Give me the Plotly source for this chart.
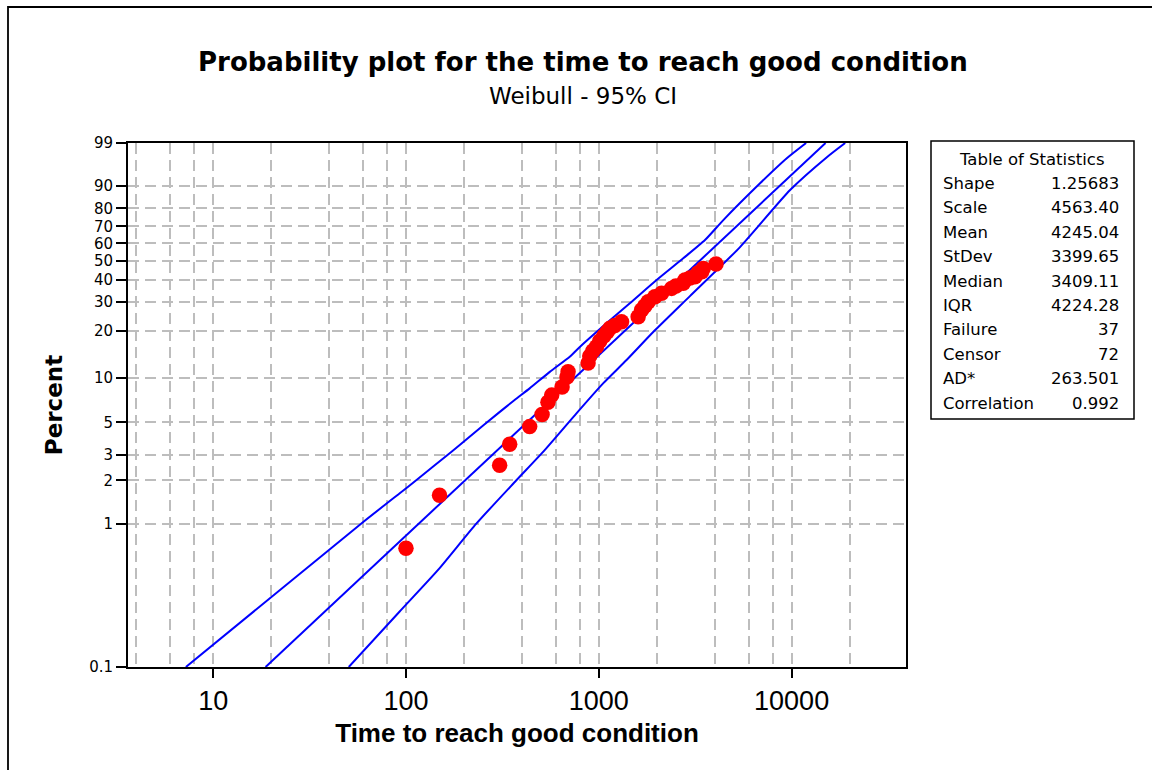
import numpy as np
import plotly.graph_objects as go

# ---------------- data ----------------
fail_time = [100, 149.3, 306, 345, 438, 508, 545, 570, 645, 684, 693, 880, 898, 931, 973,
             1012, 1062, 1104, 1141, 1211, 1312, 1600, 1667, 1734, 1804, 1954, 2117, 2386,
             2512, 2741, 2798, 2970, 3152, 3269, 3416, 3482, 4054]
fail_pct = [0.675, 1.578, 2.545, 3.55, 4.68, 5.65, 6.86, 7.65, 8.66, 10.09, 10.93, 12.47,
            13.85, 14.93, 15.91, 17.30, 18.60, 19.72, 20.79, 21.63, 22.82, 24.48, 26.86,
            28.37, 30.05, 32.12, 33.60, 35.82, 36.89, 38.18, 39.78, 40.76, 41.42, 43.32,
            44.00, 45.77, 48.13]

fit_time = [18.7, 15000]
fit_pct = [0.1, 99]

upper_time = [7.22, 58.5, 92.5, 113, 171.7, 213.8, 300, 366, 438, 557, 707, 797, 1096,
              1449, 1994, 2741, 3554, 4424, 6861, 9441, 11890]
upper_pct = [0.1, 1.0, 1.62, 2.0, 3.14, 3.99, 5.76, 7.09, 8.49, 10.93, 13.71, 15.84, 22.32,
             29.43, 39.78, 51.3, 61.92, 73.6, 90.99, 97.27, 99]

lower_time = [50.5, 92.5, 146.3, 231.6, 373.7, 524, 766, 1053, 1393, 1915, 2970, 5401,
              9822, 15290, 18960]
lower_pct = [0.1, 0.243, 0.474, 1.0, 2.0, 3.23, 5.76, 9.16, 13.06, 19.72, 32.41, 57.79,
             88.46, 97.47, 99]

y_tick_pct = [0.1, 1, 2, 3, 5, 10, 20, 30, 40, 50, 60, 70, 80, 90, 99]
y_tick_text = ["0.1", "1", "2", "3", "5", "10", "20", "30", "40", "50", "60", "70", "80", "90", "99"]
x_tick_vals = [10, 100, 1000, 10000]
x_tick_text = ["10", "100", "1000", "10000"]
x_grid_minor = [4, 6, 8, 20, 40, 60, 80, 200, 400, 600, 800, 2000, 4000, 6000, 8000, 20000]

stat_names = ["Shape", "Scale", "Mean", "StDev", "Median", "IQR", "Failure", "Censor",
              "AD*", "Correlation"]
stat_values = ["1.25683", "4563.40", "4245.04", "3399.65", "3409.11", "4224.28", "37",
               "72", "263.501", "0.992"]


# Weibull probability scale
def wb(p):
    p = np.asarray(p, dtype=float) / 100.0
    return np.log(-np.log(1.0 - p))


GRID = "#bdbdbd"
DASH = "11px,6px"
W, H = 1152, 770
L, R, T, B = 128, 246, 143, 103
PW, PH = W - L - R, H - T - B


def px_x(px):
    return (px - L) / PW


def px_y(py):
    return (H - B - py) / PH


fig = go.Figure()
for xs, ys in [(upper_time, upper_pct), (fit_time, fit_pct), (lower_time, lower_pct)]:
    fig.add_trace(go.Scatter(x=xs, y=wb(ys), mode="lines",
                             line=dict(color="#0000ff", width=2, shape="spline", smoothing=0.6),
                             hoverinfo="skip", showlegend=False))
fig.add_trace(go.Scatter(x=fail_time, y=wb(fail_pct), mode="markers",
                         marker=dict(color="#ff0000", size=15.5, line=dict(width=0)),
                         showlegend=False))

fig.update_xaxes(type="log", range=[np.log10(3.617), np.log10(39200)],
                 tickvals=x_tick_vals, ticktext=x_tick_text,
                 ticks="outside", ticklen=9, tickwidth=1.5, tickcolor="black",
                 tickfont=dict(family="Liberation Sans", size=27, color="black"),
                 showgrid=True, gridcolor=GRID, griddash=DASH, gridwidth=1.5,
                 minor=dict(tickvals=x_grid_minor, showgrid=True, gridcolor=GRID,
                            griddash=DASH, gridwidth=1.5, ticks=""),
                 showline=True, linecolor="black", linewidth=2, mirror=True,
                 zeroline=False,
                 title=dict(text="<b>Time to reach good condition</b>",
                            font=dict(family="Liberation Sans", size=26, color="black"),
                            standoff=8))
fig.update_yaxes(range=[float(wb(0.1)), float(wb(99))],
                 tickvals=wb(y_tick_pct), ticktext=y_tick_text,
                 ticks="outside", ticklen=10, tickwidth=1.5, tickcolor="black",
                 tickfont=dict(family="DejaVu Sans", size=15, color="black"),
                 showgrid=True, gridcolor=GRID, griddash=DASH, gridwidth=1.5,
                 showline=True, linecolor="black", linewidth=2, mirror=True,
                 zeroline=False,
                 title=dict(text="<b>Percent</b>",
                            font=dict(family="DejaVu Sans", size=23, color="black"),
                            standoff=20))

annotations = [
    dict(text="<b>Probability plot for the time to reach good condition</b>",
         x=px_x(583), y=px_y(62), xref="paper", yref="paper", showarrow=False,
         xanchor="center", yanchor="middle",
         font=dict(family="DejaVu Sans", size=26, color="black")),
    dict(text="Weibull - 95% CI",
         x=px_x(583), y=px_y(96), xref="paper", yref="paper", showarrow=False,
         xanchor="center", yanchor="middle",
         font=dict(family="DejaVu Sans", size=23, color="black")),
    dict(text="Table of Statistics",
         x=px_x(1032), y=px_y(159), xref="paper", yref="paper", showarrow=False,
         xanchor="center", yanchor="middle",
         font=dict(family="DejaVu Sans", size=16.5, color="black")),
]
row_y = [183, 207, 232, 256, 281, 305, 329, 354, 378, 403]
for name, val, ry in zip(stat_names, stat_values, row_y):
    annotations.append(dict(text=name, x=px_x(941), y=px_y(ry), xref="paper", yref="paper",
                            showarrow=False, xanchor="left", yanchor="middle",
                            font=dict(family="DejaVu Sans", size=16.5, color="black")))
    annotations.append(dict(text=val, x=px_x(1121), y=px_y(ry), xref="paper", yref="paper",
                            showarrow=False, xanchor="right", yanchor="middle",
                            font=dict(family="DejaVu Sans", size=16.5, color="black")))

shapes = [
    dict(type="rect", xref="paper", yref="paper",
         x0=px_x(931), x1=px_x(1134), y0=px_y(419), y1=px_y(141),
         line=dict(color="black", width=1.5), fillcolor="rgba(0,0,0,0)"),
    dict(type="rect", xref="paper", yref="paper",
         x0=px_x(8), x1=px_x(1170), y0=px_y(790), y1=px_y(7),
         line=dict(color="black", width=1.8), fillcolor="rgba(0,0,0,0)"),
]

fig.update_layout(width=W, height=H, margin=dict(l=L, r=R, t=T, b=B),
                  paper_bgcolor="white", plot_bgcolor="white",
                  annotations=annotations, shapes=shapes, showlegend=False)

fig.write_html("out.html")
